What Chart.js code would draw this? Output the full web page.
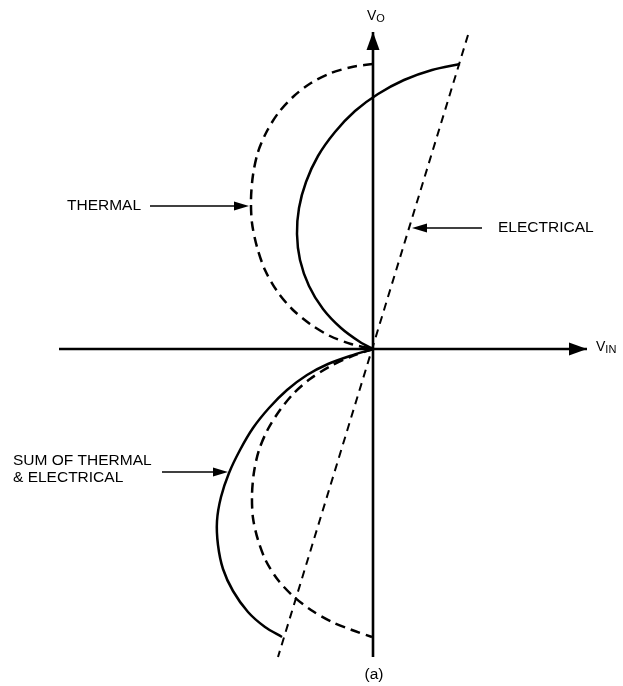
<!DOCTYPE html>
<html>
<head>
<meta charset="utf-8">
<script src="https://cdn.jsdelivr.net/npm/chart.js@4/dist/chart.umd.min.js"></script>
<style>
  html, body { margin: 0; padding: 0; background: #ffffff; }
  #wrap { width: 623px; height: 686px; }
</style>
</head>
<body>
<div id="wrap"><canvas id="c" width="623" height="686"></canvas></div>
<script>
// ---- Data (arbitrary units: V_IN horizontal, V_O vertical, origin at 0,0) ----
const thermalUpper = [
  [0,285],[-21,282],[-42,276],[-62,266],[-79,253],[-94,237],[-106,218],
  [-115,197],[-120,174],[-122,150],[-121,126],[-116,102],[-108,79],[-96,58],
  [-81,40],[-63,25],[-43,13],[-22,5],[0,0]
];
const sumUpper = [
  [87,285],[59,279],[31,269],[5,255],[-18,238],[-38,217],[-55,193],[-67,167],
  [-74,141],[-76,115],[-73,89],[-64,63],[-50,40],[-32,21],[-13,7],[0,0]
];
const thermalLower = [
  [0,0],[-23,-8],[-44,-18],[-63,-30],[-79,-44],[-93,-61],[-105,-80],
  [-114,-101],[-119,-123],[-121,-146],[-120,-169],[-115,-191],[-107,-212],
  [-95,-231],[-80,-247],[-62,-261],[-41,-273],[-21,-281],[-1,-288]
];
const sumLower = [
  [0,0],[-23,-7],[-45,-15],[-66,-26],[-86,-41],[-104,-59],[-120,-79],
  [-133,-101],[-144,-124],[-152,-148],[-156,-172],[-155,-196],[-150,-220],
  [-140,-242],[-125,-263],[-108,-278],[-91,-288]
];
const electrical = [[95,314],[-95,-308]];
const axisH = [[-314,0],[214,0]];
const axisV = [[0,-308],[0,317]];

// label texts and their callout arrows (tail -> tip)
const labelTexts = ["THERMAL", "ELECTRICAL", "SUM OF THERMAL", "& ELECTRICAL", "(a)"];
const labelAnchors = [[-306,143],[125,121],[-360,-112],[-360,-129],[1,-326]];
const calloutArrows = [
  [[-223,143],[-124,143]],
  [[109,121],[39,121]],
  [[-211,-123],[-145,-123]]
];
const axisTitles = [["V","O"],["V","IN"]];
const axisTitleAnchors = [[-6,329],[223,-2]];

const pts = a => a.map(p => ({x: p[0], y: p[1]}));
const FONT = '"Liberation Sans", Arial, Helvetica, sans-serif';

function ds(data, width, dash, tension) {
  return {
    data: pts(data), showLine: true, borderColor: '#000', borderWidth: width,
    borderDash: dash, pointRadius: 0, tension: tension, fill: false,
    borderCapStyle: 'butt', borderJoinStyle: 'round'
  };
}

const annot = {
  id: 'annot',
  afterDatasetsDraw(chart) {
    const ctx = chart.ctx, xs = chart.scales.x, ys = chart.scales.y;
    const X = v => xs.getPixelForValue(v), Y = v => ys.getPixelForValue(v);
    ctx.save();
    ctx.fillStyle = '#000'; ctx.strokeStyle = '#000';
    function head(tx, ty, dx, dy, len, hw) {
      const L = Math.hypot(dx, dy); dx /= L; dy /= L;
      const bx = tx - dx * len, by = ty - dy * len;
      ctx.beginPath();
      ctx.moveTo(tx, ty);
      ctx.lineTo(bx - dy * hw, by + dx * hw);
      ctx.lineTo(bx + dy * hw, by - dx * hw);
      ctx.closePath(); ctx.fill();
    }
    // axis arrowheads
    head(X(axisH[1][0]), Y(axisH[1][1]), 1, 0, 18, 6.5);
    head(X(axisV[1][0]), Y(axisV[1][1]), 0, -1, 18, 6.5);
    // callout arrows
    ctx.lineWidth = 1.3;
    calloutArrows.forEach(a => {
      const x0 = X(a[0][0]), y0 = Y(a[0][1]), x1 = X(a[1][0]), y1 = Y(a[1][1]);
      const dx = x1 - x0, dy = y1 - y0, L = Math.hypot(dx, dy);
      ctx.beginPath(); ctx.moveTo(x0, y0);
      ctx.lineTo(x1 - dx / L * 10, y1 - dy / L * 10); ctx.stroke();
      head(x1, y1, dx, dy, 15, 4.5);
    });
    // labels
    ctx.textBaseline = 'middle';
    ctx.font = '15.5px ' + FONT;
    labelTexts.forEach((t, i) => {
      ctx.textAlign = (t === '(a)') ? 'center' : 'left';
      ctx.fillText(t, X(labelAnchors[i][0]), Y(labelAnchors[i][1]));
    });
    // axis titles with subscripts
    ctx.textAlign = 'left'; ctx.textBaseline = 'alphabetic';
    axisTitles.forEach((t, i) => {
      const x = X(axisTitleAnchors[i][0]), y = Y(axisTitleAnchors[i][1]);
      ctx.font = '14px ' + FONT;
      ctx.fillText(t[0], x, y);
      const w = ctx.measureText(t[0]).width;
      ctx.font = '11px ' + FONT;
      ctx.fillText(t[1], x + w, y + 2);
    });
    ctx.restore();
  }
};

new Chart(document.getElementById('c'), {
  type: 'scatter',
  data: {
    datasets: [
      ds(axisH, 2.6, [], 0),
      ds(axisV, 2.6, [], 0),
      ds(electrical, 2, [8, 6], 0),
      ds(thermalUpper, 2.5, [10, 6], 0.3),
      ds(thermalLower, 2.5, [10, 6], 0.3),
      ds(sumUpper, 2.5, [], 0.3),
      ds(sumLower, 2.5, [], 0.3)
    ]
  },
  options: {
    responsive: false,
    animation: false,
    devicePixelRatio: 1,
    layout: { padding: 0 },
    plugins: { legend: { display: false }, tooltip: { enabled: false }, title: { display: false } },
    scales: {
      x: { type: 'linear', min: -373, max: 250, display: false },
      y: { type: 'linear', min: -337, max: 349, display: false }
    }
  },
  plugins: [annot]
});
</script>
</body>
</html>
